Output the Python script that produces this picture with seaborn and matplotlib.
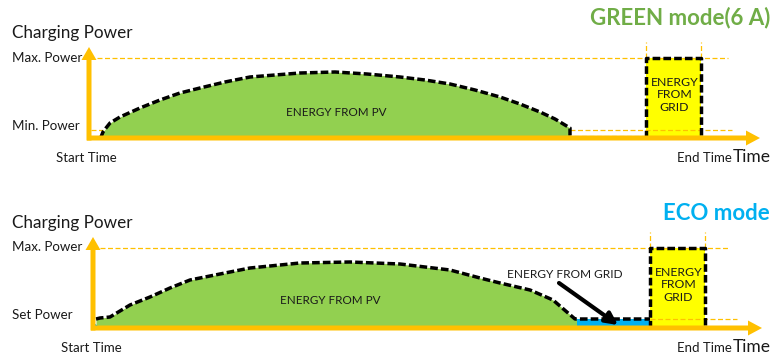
import matplotlib
matplotlib.use("Agg")
import matplotlib.pyplot as plt
import seaborn as sns
import pandas as pd
from matplotlib.patches import Rectangle

sns.set_theme(style="white")
plt.rcParams['font.family'] = ['Lato', 'DejaVu Sans']

# ---- GREEN mode: PV-only charging, then a grid boost at full power ----
green_time = [101, 101, 103, 106, 110, 120, 140, 160, 180, 200, 225, 250, 275,
              300, 335, 367, 400, 425, 450, 475, 500, 520, 540, 555, 565, 570, 570]
green_power = [0, 1, 6, 10, 15, 21, 30, 38, 45, 50, 56, 61, 63,
               65, 66, 64, 61, 58, 54, 48, 41, 34, 26, 19, 13, 10, 0]
green_max_power = 80
green_min_power = 8
green_grid_window = (646, 701)

# ---- ECO mode: PV topped up to the set power from the grid ----
eco_time = [96, 100, 110, 130, 150, 170, 190, 200, 250, 300, 350, 400, 450,
            480, 500, 530, 553, 575, 650]
eco_power = [9, 10, 11, 23, 31, 40, 48, 50, 60, 65, 66, 64, 58,
             50, 45, 38, 28, 9, 9]
eco_max_power = 80
eco_set_power = 9
eco_grid_topup = (577, 650)
eco_grid_window = (650, 705)

AXIS_C = "#FFC000"
PV_C = "#92D050"
GRID_C = "#FFFF00"
TOPUP_C = "#00B0F0"
TEXT_C = "#1A1A1A"
OUTLINE = dict(color="black", lw=2.5, linestyle=(0, (2.2, 0.9)))
GUIDE = dict(color=AXIS_C, lw=0.9, linestyle=(0, (4, 2)))

W, H = 774, 357
fig = plt.figure(figsize=(W / 100, H / 100), dpi=100)


def make_panel(top_px, bottom_px, base_px):
    ax = fig.add_axes([0, 1 - bottom_px / H, 1, (bottom_px - top_px) / H])
    ax.set_xlim(0, W)
    ax.set_ylim(-(bottom_px - base_px), base_px - top_px)
    ax.axis("off")
    return ax


def axes_arrows(ax, x0, x_end, y_top):
    ax.arrow(x0 - 2, 0, x_end - x0 + 2, 0, width=5, head_width=15, head_length=14,
             length_includes_head=True, color=AXIS_C, lw=0, zorder=5)
    ax.arrow(x0, -2.5, 0, y_top + 2.5, width=5, head_width=15, head_length=13,
             length_includes_head=True, color=AXIS_C, lw=0, zorder=5)


def grid_box(ax, window, top):
    x0, x1 = window
    ax.add_patch(Rectangle((x0, 0), x1 - x0, top, facecolor=GRID_C, edgecolor="none", zorder=2))
    ax.plot([x0, x0, x1, x1], [0, top, top, 0], zorder=4, **OUTLINE)
    for xv in window:
        ax.plot([xv, xv], [top, top + 16], zorder=3, **GUIDE)
    ax.text((x0 + x1) / 2 + 1, top / 2 + 3, "ENERGY\nFROM\nGRID", ha="center", va="center",
            fontsize=8.8, color=TEXT_C, linespacing=1.12, zorder=6)


def labels(ax, base_px, ylabels, start_x, end_x):
    def py(ypx):
        return base_px - ypx
    ax.text(12, py(base_px - 105), "Charging Power", fontsize=12.3, color=TEXT_C, va="center")
    for txt, yv in ylabels:
        ax.text(12, yv, txt, fontsize=9.6, color=TEXT_C, va="center")
    ax.text(start_x, py(base_px + 20), "Start Time", fontsize=9.5, color=TEXT_C,
            ha="center", va="center")
    ax.text(end_x, py(base_px + 20), "End Time", fontsize=9.5, color=TEXT_C,
            ha="right", va="center")
    ax.text(end_x + 1, py(base_px + 19), "Time", fontsize=12.5, color=TEXT_C,
            ha="left", va="center")


# ---------------- top panel: GREEN mode ----------------
ax1 = make_panel(0, 178, 138)
ax1.fill_between(green_time, 0, green_power, color=PV_C, lw=0, zorder=1)
sns.lineplot(x=green_time, y=green_power, ax=ax1, estimator=None, sort=False, zorder=4, **OUTLINE)
ax1.plot([97, 728], [green_max_power] * 2, zorder=3, **GUIDE)
ax1.plot([91, 103], [green_min_power] * 2, zorder=3, **GUIDE)
ax1.plot([570, 732], [green_min_power] * 2, zorder=3, **GUIDE)
ax1.plot([574, 644], [2, 2], color="#C8C8C8", lw=0.9, linestyle=(0, (4, 2)), zorder=3)
grid_box(ax1, green_grid_window, green_max_power)
axes_arrows(ax1, 89, 760, 91)
ax1.text(336, 26, "ENERGY FROM PV", fontsize=8.4, color=TEXT_C, ha="center", va="center")
labels(ax1, 138, [("Max. Power", green_max_power), ("Min. Power", 12)], 86, 732)
ax1.text(770, 120, "GREEN mode(6 A)", fontsize=16, fontweight="bold", color="#70AD47",
         ha="right", va="center")

# ---------------- bottom panel: ECO mode ----------------
ax2 = make_panel(178, 357, 328)
ax2.fill_between(eco_time, 0, eco_power, color=PV_C, lw=0, zorder=1)
ax2.fill_between(list(eco_grid_topup), 0, [eco_set_power] * 2, color=TOPUP_C, lw=0, zorder=1.5)
ax2.fill([93, 100, 93], [0, 0, 6], color=TOPUP_C, lw=0, zorder=1.5)
sns.lineplot(x=eco_time, y=eco_power, ax=ax2, estimator=None, sort=False, zorder=4, **OUTLINE)
ax2.plot([100, 730], [eco_max_power] * 2, zorder=3, **GUIDE)
ax2.plot([650, 737], [eco_set_power] * 2, zorder=3, **GUIDE)
grid_box(ax2, eco_grid_window, eco_max_power)
axes_arrows(ax2, 93, 762, 91)
ax2.text(330, 27, "ENERGY FROM PV", fontsize=8.4, color=TEXT_C, ha="center", va="center")
ax2.text(565, 53, "ENERGY FROM GRID", fontsize=8.6, color=TEXT_C, ha="center", va="center")
ax2.annotate("", xy=(618, 3), xytext=(559, 45),
             arrowprops=dict(arrowstyle="-|>,head_length=0.6,head_width=0.3",
                             color="black", lw=3.0, shrinkA=0, shrinkB=0), zorder=6)
labels(ax2, 328, [("Max. Power", eco_max_power + 1), ("Set Power", 13)], 91, 732)
ax2.text(770, 115, "ECO mode", fontsize=16, fontweight="bold", color=TOPUP_C,
         ha="right", va="center")

fig.savefig("out.png", dpi=100)
